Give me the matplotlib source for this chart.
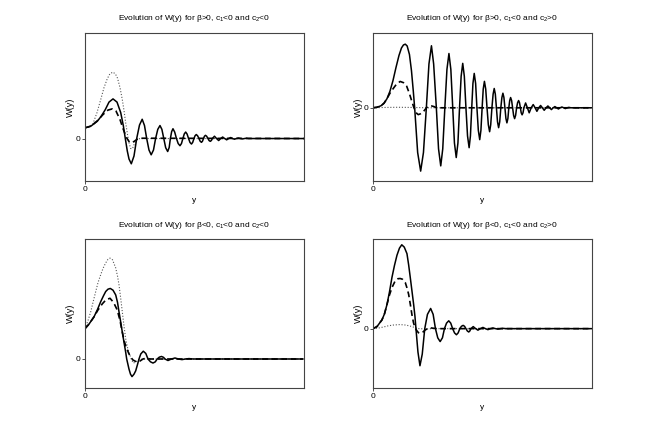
import matplotlib
matplotlib.use("Agg")
import matplotlib.pyplot as plt

plt.rcParams['font.family'] = ['Liberation Sans', 'DejaVu Sans']
plt.rcParams['mathtext.fontset'] = 'custom'
plt.rcParams['mathtext.rm'] = 'Liberation Sans'
plt.rcParams['mathtext.it'] = 'Liberation Sans'

titles = [
    r"Evolution of W(y) for β>0, c$_1$<0 and c$_2$<0",
    r"Evolution of W(y) for β>0, c$_1$<0 and c$_2$>0",
    r"Evolution of W(y) for β<0, c$_1$<0 and c$_2$<0",
    r"Evolution of W(y) for β<0, c$_1$<0 and c$_2$>0",
]
x_label = "y"
y_label = "W(y)"
tick_label = "0"

# ---------------- panel 1 : beta>0, c1<0, c2<0 ----------------
p1_solid_x = [0, 5.7, 12.3, 16, 20.3, 24, 28, 32, 35.7, 38.3, 40.3, 42.3, 44, 46.3, 49, 51.7,
              54.5, 57.2, 59.5, 61.7, 64, 66.2, 68.5, 70.6, 72.8, 75, 76.9, 78.8, 80.7, 82.7,
              84.2, 85.4, 86.7, 88, 89.7, 91.5, 93.2, 95, 96.5, 97.9, 99.3, 100.7, 102.1, 103.6,
              105, 106.5, 107.7, 109, 110.1, 111.3, 112.6, 114, 115.2, 116.5, 117.5, 118.5,
              119.5, 120.5, 121.7, 123, 124.1, 125.3, 126.4, 127.4, 129.5, 131.6,
              133.7, 135.7, 137.7, 139.7, 141.7, 143.7, 145.7, 147.6, 149.5, 151.5, 153.5,
              155.5, 157.5, 159.5, 161.5, 163.5, 219]
p1_solid_y = [10.7, 12.3, 17.3, 22, 29, 36.5, 39.7, 36.5, 26, 13, 0, -12.5, -20.5, -25.3, -17.5, 0,
              13.5, 19.3, 13, 0, -11.5, -16.3, -11.5, 0, 9.2, 13, 9.2, 0, -9.2, -13,
              -9, 0, 7, 9.8, 6.5, 0, -5, -7.2, -5, 0, 4.6, 6.5, 4.5, 0,
              -3.9, -5.5, -3.9, 0, 2.8, 4, 2.8, 0, -2.7, -3.8, -2.7, 0,
              2.3, 3.2, 2.3, 0, -2, -2.8, -2, 0, 2.3, 0,
              -2, 0, 1.5, 0, -1.3, 0, 1, 0, -0.7, 0, 0.5,
              0, -0.4, 0, 0.3, 0, 0]
p1_dash_x = [0, 6, 12, 18, 23, 27.3, 31, 35, 38, 41.5, 44, 46.3, 49, 52, 56, 219]
p1_dash_y = [10.7, 12.5, 17.5, 24, 28.5, 29.7, 27.5, 19, 10, 1, -3, -4.3, -3, -0.8, 0.3, 0]
p1_dot_x = [0, 4, 8, 12, 15.7, 19, 22.3, 25, 28, 30.5, 32.5, 35, 37.3, 39, 40.7, 42.5, 44,
            45.7, 47.5, 49.5, 52, 55, 219]
p1_dot_y = [10.7, 11.5, 15, 26, 39, 51, 60, 65, 66.5, 64.5, 60.5, 51, 39, 28, 15.7, 4, -4.3,
            -10, -10, -5, -1, 0, 0]

# ---------------- panel 2 : beta>0, c1<0, c2>0 ----------------
p2_solid_x = [0, 4, 8, 11, 14, 17, 20, 23, 26, 28.5, 30.5, 32.3, 34.2, 36.5, 38.5, 40.3, 41.7,
              44.7, 47.7, 50.5, 53.4, 56, 58.5, 60.7, 63.4, 65.6, 67.8, 69.8, 71.9, 74, 76,
              77.9, 79.8, 81.5, 83.3, 85, 86.6, 88.2, 89.8, 91.4, 93, 94.6, 96.2, 97.5, 98.8,
              100, 101.3, 102.7, 104, 105.4, 106.8, 108, 109.2, 110.3, 111.5, 112.8, 114.1,
              115.4, 116.7, 117.8, 119, 120.2, 121.3, 122.4, 123.5, 124.6, 125.7, 126.8, 127.9,
              129, 130, 131, 132, 133, 134, 135, 135.9, 136.8, 137.7, 138.7, 139.7, 140.7,
              141.7, 142.7, 143.7, 144.7, 145.7, 146.6, 147.5, 148.3, 149.2, 150.1, 151,
              152.7, 154.5, 156.3, 158.3, 160.3, 162.2, 164, 165.9, 167.7, 169.5, 171.3, 173.2,
              175, 176.8, 178.5, 180.3, 182, 183.8, 185.5, 187.3, 189, 190.8, 192.5, 194.3,
              196, 198, 219]
p2_solid_y = [0, 0.5, 2, 4.5, 9, 16.5, 27, 40, 52, 59.5, 62.5, 63.3, 61.5, 53, 37, 17, 0,
              -44.5, -63, -44.5, 0, 43.6, 61.7, 43.6, 0, -40.9, -57.8, -40.9, 0, 38.2, 54,
              38.2, 0, -35, -49.5, -35, 0, 31.3, 44.2, 31.3, 0, -28, -39.7, -28, 0,
              24.2, 34.2, 24.2, 0, -22.4, -31.7, -22.4, 0, 18.6, 26.3, 18.6, 0,
              -16.8, -23.8, -16.8, 0, 13.6, 19.2, 13.6, 0, -14, -19.8, -14, 0,
              10.3, 14.5, 10.3, 0, -10.6, -15, -10.6, 0, 7.2, 10.2, 7.2, 0, -7.6,
              -10.8, -7.6, 0, 5.1, 7.2, 5.1, 0, -5, -7, -5, 0,
              4.8, 0, -5, 0, 3.2, 0, -3.5, 0, 2.3, 0, -2.5, 0,
              1.8, 0, -1.8, 0, 1.2, 0, -1.2, 0, 0.8, 0, -0.8, 0,
              0.4, 0, 0]
p2_dash_x = [0, 4, 8, 11, 14, 17, 20.3, 23.5, 27.2, 30.5, 33.7, 36.5, 38.7, 41, 42, 43.7, 45.3,
             47.5, 50.3, 53.7, 56, 58.7, 61, 63.7, 219]
p2_dash_y = [0, 0.5, 2, 4.5, 9, 14.5, 19.2, 23.5, 26.2, 25, 21.5, 14, 7, 0, -2.3, -5.5, -6.8,
             -6, -4, 0.2, 1.5, 1.8, 1.2, 0, 0]
p2_dot_x = [0, 10, 25, 40, 55, 219]
p2_dot_y = [0, 0.3, 0.5, 0.3, 0, 0]

# ---------------- panel 3 : beta<0, c1<0, c2<0 ----------------
p3_solid_x = [0, 4, 9, 12.5, 15.7, 18.5, 20.7, 23, 25.3, 28, 30.7, 32.5, 34, 35.7, 37.3, 39,
              40.7, 41.7, 44, 45.5, 47, 49, 50.7, 52.5, 54, 55.8, 58.3, 60.8, 63, 65.5, 68,
              70.3, 72.2, 74.3, 76.5, 78.6, 80, 83, 86.5, 90, 93.5, 97, 100.5, 104, 108, 218]
p3_solid_y = [30, 34.5, 41.7, 49, 56.7, 62.5, 66.7, 69, 69.7, 68, 63.3, 56, 46.6, 36.5, 26.6,
              16.5, 6.6, 0, -10, -15, -17.4, -15, -11.7, -5.5, 0, 5, 7.7, 5.5, 0, -2.8, -4,
              -2.8, 0, 1.8, 2.5, 1.6, 0, -1.5, 0, 1, 0, -0.6, 0, 0.4, 0, 0]
p3_dash_x = [0, 4, 9, 13, 17.3, 21, 25, 28.5, 32.3, 35, 37.3, 39, 40.7, 42.5, 44, 46, 48,
             51.8, 55, 58, 61, 65, 218]
p3_dash_y = [30, 34.5, 41.7, 48.5, 54.5, 58.5, 60, 56, 48.3, 38, 26.6, 18.5, 13, 8.5, 5, 1.5,
             -1, -3, -2, 0, 0.8, 0, 0]
p3_dot_x = [0, 3, 5.7, 8, 10.7, 13, 15.7, 18, 20.7, 23, 25, 27.5, 30.7, 32.5, 34, 35.7, 37.3,
            39, 40.7, 42.3, 44, 46, 48.3, 51, 54, 58, 218]
p3_dot_y = [30, 38, 46.6, 56, 66.6, 75.5, 83.3, 89.5, 95, 98.5, 99.7, 98, 90, 82, 73.3, 60,
            46.6, 32.5, 20, 12, 6.6, 0.5, -4, -3, -0.5, 0, 0]

# ---------------- panel 4 : beta<0, c1<0, c2>0 ----------------
p4_solid_x = [0, 4, 9, 11.5, 14, 16.5, 19, 21.5, 24, 26.5, 28.8, 31.3, 34, 35.7, 37.3, 39,
              40.7, 42, 43, 45, 47, 49.3, 51.8, 54.5, 57.7, 60.2, 62.5, 64.8, 67.2, 69.5,
              71.5, 73.6, 75.8, 77.8, 79.7, 81.6, 83.5, 85.2, 86.9, 88.5, 90.2, 91.6, 93,
              94.4, 95.8, 96.9, 98, 100.3, 102.7, 105, 107.5, 110, 112.5, 115, 117.5, 120,
              122.5, 125, 127.5, 130, 133, 219]
p4_solid_y = [0, 2, 8.6, 14.5, 23.6, 36, 50.3, 62, 72, 79, 82.3, 80, 73.6, 62.5, 50.3, 37,
              23.6, 12, 0, -23, -36.4, -25, 0, 14, 19.8, 14, 0, -9, -12.7, -9,
              0, 5.4, 7.7, 5.4, 0, -4.2, -6, -4.2, 0, 2.3, 3.2, 2.3, 0,
              -2.3, -3.3, -2.3, 0, 2, 0, -1.5, 0, 1.2, 0, -1, 0, 0.7,
              0, -0.5, 0, 0.3, 0, 0]
p4_dash_x = [0, 4, 9, 11.5, 14, 16.5, 19, 22.3, 25, 27.2, 29.5, 32.3, 34, 35.7, 37.5, 39,
             40.5, 41.7, 43.5, 45.5, 47, 49.5, 52, 54.5, 57.3, 61, 65, 219]
p4_dash_y = [0, 2, 8.6, 14.5, 23.6, 33, 40.3, 47, 49, 49.2, 48.5, 45.3, 40, 33.6, 23, 13.6,
             6, 2, -1.5, -4, -4.6, -3.8, -1.5, 0, 0.8, 0.3, 0, 0]
p4_dot_x = [0, 5, 10, 15, 20, 27, 33, 38, 42, 46, 52, 60, 219]
p4_dot_y = [0, 0.5, 1.5, 2.7, 3.5, 4, 3.5, 2.3, 1, 0, -0.3, 0, 0]

panels = [
    (p1_solid_x, p1_solid_y, p1_dash_x, p1_dash_y, p1_dot_x, p1_dot_y, (-43, 106)),
    (p2_solid_x, p2_solid_y, p2_dash_x, p2_dash_y, p2_dot_x, p2_dot_y, (-73.3, 74.7)),
    (p3_solid_x, p3_solid_y, p3_dash_x, p3_dash_y, p3_dot_x, p3_dot_y, (-28.7, 118.3)),
    (p4_solid_x, p4_solid_y, p4_dash_x, p4_dash_y, p4_dot_x, p4_dot_y, (-58.3, 87.7)),
]
x_range = (0, 219)

positions = [
    [0.13, 0.5838, 0.3347, 0.3412],
    [0.5703, 0.5838, 0.3347, 0.3412],
    [0.13, 0.11, 0.3347, 0.3412],
    [0.5703, 0.11, 0.3347, 0.3412],
]

fig = plt.figure(figsize=(6.54, 4.36), dpi=100)
fs = 6.0
for pos, title, (sx, sy, dx, dy, ox, oy, ylim) in zip(positions, titles, panels):
    ax = fig.add_axes(pos)
    ax.plot(ox, oy, color='#555555', lw=0.8, linestyle=(0, (1, 1.6)))
    ax.plot(dx, dy, color='black', lw=1.2, linestyle=(0, (3.5, 2.2)))
    ax.plot(sx, sy, color='black', lw=1.1, solid_joinstyle='round')
    ax.set_xlim(*x_range)
    ax.set_ylim(*ylim)
    ax.set_xticks([0])
    ax.set_xticklabels([tick_label])
    ax.set_yticks([0])
    ax.set_yticklabels([tick_label])
    ax.tick_params(direction='out', length=2.0, width=0.6, labelsize=fs, pad=1.5,
                   color='#333333')
    for sp in ax.spines.values():
        sp.set_color('#444444')
        sp.set_linewidth(0.8)
    ax.set_title(title, fontsize=fs, pad=9)
    ax.set_xlabel(x_label, fontsize=fs, labelpad=3)
    ax.set_ylabel(y_label, fontsize=fs + 0.6, labelpad=0)

fig.savefig("out.png", dpi=100)
